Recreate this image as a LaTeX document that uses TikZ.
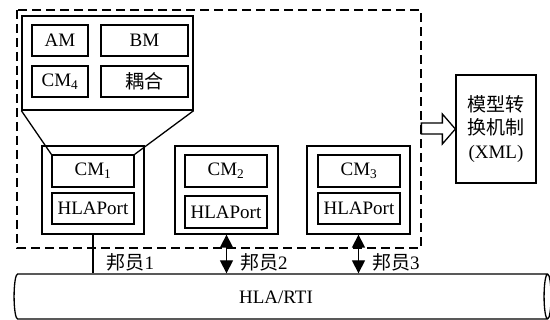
\documentclass[tikz,border=0pt]{standalone}
\usepackage{fontspec}
\setmainfont{Liberation Serif}
\newfontfamily\cjk{Noto Sans CJK SC}
\usetikzlibrary{arrows.meta,shapes.geometric}

\tikzset{
  txt/.style={font=\fontsize{19}{23.5}\selectfont},
  mbox/.style={draw, line width=1.3pt, inner sep=0pt, txt},
  fedbox/.style={draw, line width=1.3pt, minimum width=102pt, minimum height=88pt},
  link/.style={line width=1.3pt},
  both/.style={line width=1.3pt, {Triangle[length=13pt,width=13pt]}-{Triangle[length=13pt,width=13pt]}},
  lbl/.style={anchor=west, inner sep=0pt, txt, xshift=13pt},
}

\begin{document}
\begin{tikzpicture}[x=1pt,y=-1pt]
  \useasboundingbox (0,0) rectangle (550,320);

  % federation boundary
  \draw[line width=2pt, dash pattern=on 9pt off 5pt] (17,10) rectangle (421,248);

  % zoomed view of federate 1
  \node[mbox, minimum width=171pt, minimum height=94pt] (group) at (107.5,63) {};
  \node[mbox, minimum width=56pt, minimum height=31pt] (am) at (60,40.5) {AM};
  \node[mbox, minimum width=87pt, minimum height=31pt] (bm) at (144.5,40.5) {BM};
  \node[mbox, minimum width=56pt, minimum height=31pt] (cm4) at (60,81.5) {CM\textsubscript{4}};
  \node[mbox, minimum width=87pt, minimum height=31pt] (couple) at (144.5,81.5) {\cjk 耦合};

  % federates
  \node[fedbox] (fed1) at (93,190) {};
  \node[mbox, minimum width=82pt, minimum height=32pt] (cm1) at (93,171) {CM\textsubscript{1}};
  \node[mbox, minimum width=82pt, minimum height=31pt] (port1) at (93,208.5) {HLAPort};

  \node[fedbox, minimum width=103pt] (fed2) at (226.5,190) {};
  \node[mbox, minimum width=82pt, minimum height=32pt] (cm2) at (226,171) {CM\textsubscript{2}};
  \node[mbox, minimum width=82pt, minimum height=32pt] (port2) at (226,212) {HLAPort};

  \node[fedbox, minimum width=103pt] (fed3) at (358.5,190) {};
  \node[mbox, minimum width=82pt, minimum height=32pt] (cm3) at (359,171) {CM\textsubscript{3}};
  \node[mbox, minimum width=82pt, minimum height=31pt] (port3) at (359,208.5) {HLAPort};

  \draw[link] (group.south west) -- (cm1.north west);
  \draw[link] (group.south east) -- (cm1.north east);

  % conversion mechanism
  \node[mbox, minimum width=80pt, minimum height=108pt, align=center] (model) at (496,129)
    {{\cjk 模型转}\\{\cjk 换机制}\\(XML)};
  \draw[line width=1.3pt, fill=white] (model.west) -- ++(-13,-15) -- ++(0,9) -- ++(-21,0)
    -- ++(0,11) -- ++(21,0) -- ++(0,10) -- cycle;

  % RTI bus
  \node[cylinder, draw, line width=1.3pt, shape border rotate=0, aspect=0.55,
        minimum width=45pt, minimum height=537pt, inner sep=0pt, txt] (bus) at (280.5,296.5) {\phantom{HLA/RTI}};
  \node[txt] (rti) at (276,297) {HLA/RTI};

  \draw[link] (fed1.south) -- (fed1.south |- bus.north)
    node[lbl, pos=0.72] (lab1) {{\cjk 邦员}1};
  \draw[both] (fed2.south) -- (fed2.south |- bus.north)
    node[lbl, pos=0.72] (lab2) {{\cjk 邦员}2};
  \draw[both] (fed3.south) -- (fed3.south |- bus.north)
    node[lbl, pos=0.72] (lab3) {{\cjk 邦员}3};
\end{tikzpicture}
\end{document}
